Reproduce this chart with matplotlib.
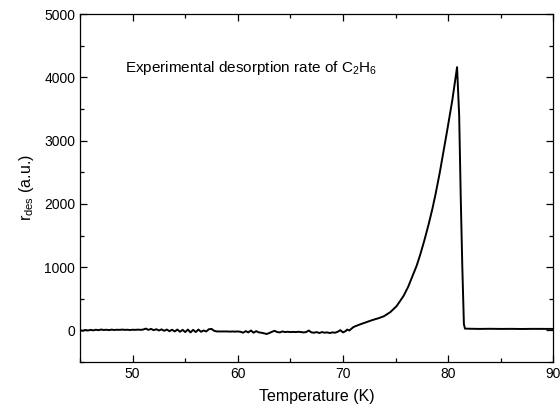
import matplotlib
matplotlib.use("Agg")
import matplotlib.pyplot as plt
from matplotlib.ticker import MultipleLocator

plt.rcParams['font.family'] = ['Liberation Sans', 'DejaVu Sans']
plt.rcParams['mathtext.fontset'] = 'custom'
plt.rcParams['mathtext.rm'] = 'Liberation Sans'
plt.rcParams['mathtext.it'] = 'Liberation Sans'

# flat noisy baseline, 45 - 70.25 K every 0.25 K
base_T = [45.0 + 0.25 * i for i in range(102)]
base_r = [5, -5, 8, 0, 10, 2, 12, 5, 15, 8, 12, 6, 14, 8, 12, 10,
          14, 10, 12, 8, 12, 10, 14, 10, 15, 30, 10, 25, 5, 20, 0, 18,
          -5, 15, -10, 12, -15, 15, -20, 10, -25, 15, -30, 10, -25, 15, -20, 0,
          -15, 20, 25, -5, -15, -15, -15, -15, -15, -18, -15, -18, -15, -20, -35, -10,
          -30, 0, -35, -10, -30, -35, -45, -55, -40, -20, -5, -25, -30, -15, -25, -20,
          -25, -22, -25, -20, -25, -30, -25, 0, -30, -35, -25, -40, -25, -35, -30, -40,
          -30, -35, -20, 5, -30, -10]

# desorption peak and tail
peak_T = [70.4, 70.6, 71.0, 71.6, 72.2, 72.8, 73.4, 73.9, 74.5, 75.1, 75.75, 76.2,
          76.55, 77.0, 77.35, 77.75, 78.15, 78.5, 78.8, 79.2, 79.9, 80.4, 80.85,
          81.05, 81.2, 81.35, 81.5, 81.6, 82.0, 83.0, 84.0, 85.0, 86.0, 87.0,
          88.0, 89.0, 90.0]
peak_r = [15, 0, 55, 95, 130, 165, 195, 226, 290, 385, 543, 690,
          833, 1020, 1200, 1430, 1680, 1920, 2150, 2490, 3150, 3640, 4160,
          3400, 2100, 1000, 100, 30, 28, 25, 27, 25, 26, 24,
          26, 25, 25]

T = base_T + peak_T
r = base_r + peak_r

fig = plt.figure(figsize=(5.6, 4.12), dpi=100)
ax = fig.add_axes([0.143, 0.121, 0.845, 0.845])
ax.plot(T, r, color='black', lw=1.4)

ax.set_xlim(45, 90)
ax.set_ylim(-500, 5000)
ax.xaxis.set_major_locator(MultipleLocator(10))
ax.xaxis.set_minor_locator(MultipleLocator(5))
ax.yaxis.set_major_locator(MultipleLocator(1000))
ax.yaxis.set_minor_locator(MultipleLocator(500))
ax.tick_params(which='both', direction='in', top=True, right=True, labelsize=10, width=0.9)
ax.tick_params(which='major', length=5)
ax.tick_params(which='minor', length=3)
for s in ax.spines.values():
    s.set_linewidth(0.9)

ax.set_xlabel('Temperature (K)', fontsize=11.5, labelpad=6)
ax.set_ylabel(r'r$_{\mathrm{des}}$ (a.u.)', fontsize=11.5, labelpad=6)
ax.text(49.3, 4150, r'Experimental desorption rate of C$_2$H$_6$', fontsize=11, va='center')

fig.savefig('out.png')
